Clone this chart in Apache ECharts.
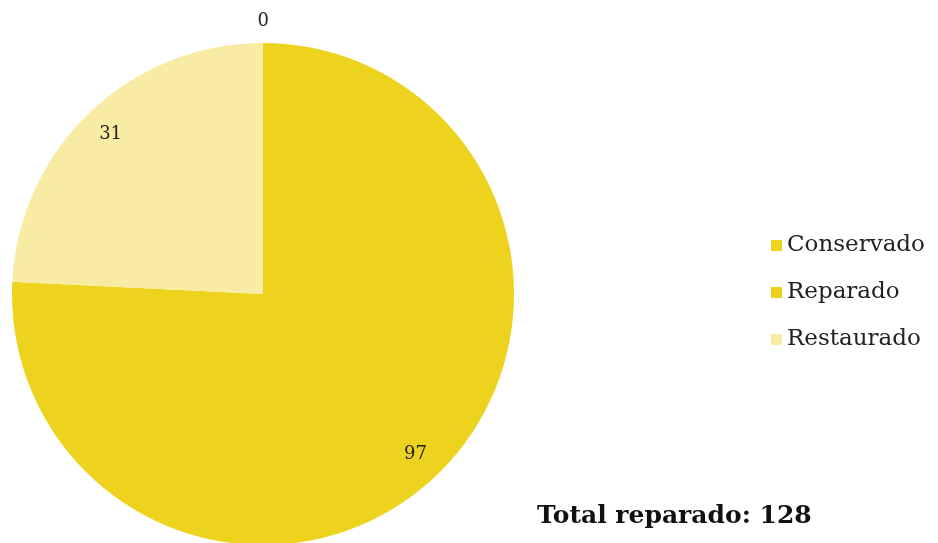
<!DOCTYPE html>
<html>
<head>
<meta charset="utf-8">
<script src="https://cdn.jsdelivr.net/npm/echarts@6/dist/echarts.min.js"></script>
<style>
    html, body { margin: 0; padding: 0; background: #fff; }
    #main { width: 938px; height: 543px; }
</style>
</head>
<body>
<div id="main"></div>
<script>
// datos del grafico
var categories = ['Conservado', 'Reparado', 'Restaurado'];
var values = [97, 0, 31];
var colors = ['#EED31E', '#EBCF1A', '#F8EBA4'];
// orden de dibujo desde las 12 en sentido horario
var drawOrder = [0, 2, 1];

var Chart = function() {
    var t = {
        font : 'DejaVu Serif',
        init : function(id) {
            t.chart = echarts.init(document.getElementById(id));
            t.render();
        },
        buildData : function(which) {
            var data = [];
            for (var i = 0; i < drawOrder.length; i++) {
                var k = drawOrder[i];
                var item = {
                    name : categories[k],
                    value : values[k],
                    itemStyle : { color : colors[k] }
                };
                if (which === 'outer') {
                    item.label = { show : values[k] === 0, align : 'center' };
                } else {
                    item.label = { show : values[k] !== 0 };
                    item.itemStyle = { color : 'rgba(0,0,0,0)' };
                }
                data.push(item);
            }
            return data;
        },
        render : function() {
            var total = 0;
            for (var i = 0; i < values.length; i++) total += values[i];
            var labelStyle = {
                formatter : '{c}',
                fontFamily : t.font,
                fontSize : 18,
                color : '#222'
            };
            var option = {
                animation : false,
                legend : {
                    orient : 'vertical',
                    left : 766,
                    top : 229,
                    data : categories,
                    icon : 'rect',
                    itemWidth : 11,
                    itemHeight : 11,
                    itemGap : 24,
                    textStyle : {
                        fontFamily : t.font,
                        fontSize : 23,
                        color : '#222'
                    }
                },
                graphic : [ {
                    type : 'text',
                    left : 537,
                    top : 504,
                    style : {
                        text : 'Total reparado: ' + total,
                        fontFamily : t.font,
                        fontWeight : 'bold',
                        fontSize : 25,
                        fill : '#111'
                    }
                } ],
                series : [ {
                    type : 'pie',
                    center : [ 263, 294 ],
                    radius : [ 0, 251 ],
                    startAngle : 90,
                    clockwise : true,
                    avoidLabelOverlap : false,
                    label : Object.assign({
                        position : 'outside',
                        alignTo : 'none'
                    }, labelStyle),
                    labelLine : { show : false, length : 22, length2 : 0 },
                    labelLayout : { dx : 11 },
                    itemStyle : { borderWidth : 0 },
                    emphasis : { disabled : true },
                    data : t.buildData('outer')
                }, {
                    // capa transparente solo para las etiquetas interiores
                    type : 'pie',
                    silent : true,
                    center : [ 263, 294 ],
                    radius : [ 0, 436 ],
                    startAngle : 90,
                    clockwise : true,
                    label : Object.assign({ position : 'inside' }, labelStyle),
                    itemStyle : { borderWidth : 0 },
                    emphasis : { disabled : true },
                    data : t.buildData('inner')
                } ]
            };
            t.chart.setOption(option);
        }
    };
    return t;
}();

Chart.init('main');
</script>
</body>
</html>
